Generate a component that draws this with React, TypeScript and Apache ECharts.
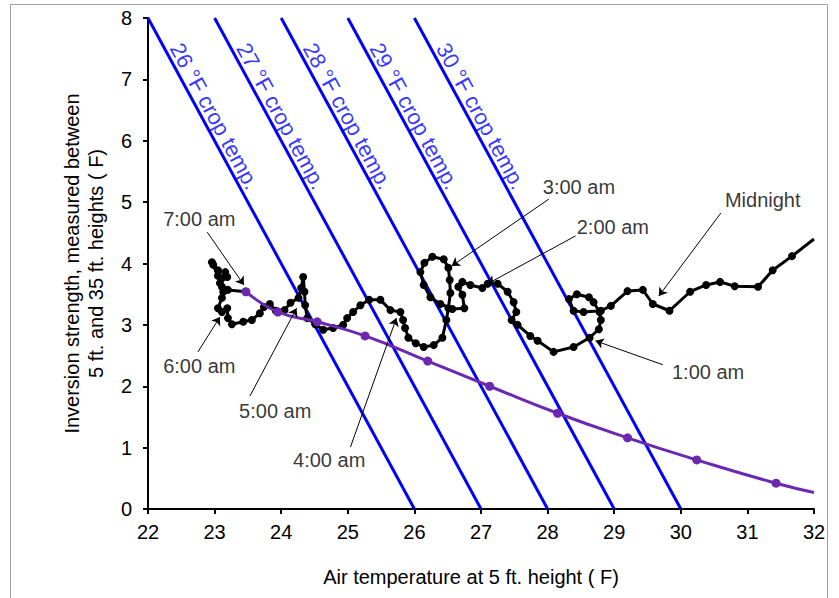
import React, { useEffect, useRef } from "react";
import * as echarts from "echarts";

// Crop temperature reference lines (°F): each runs from (topX, 8) down to (crop temp, 0)
const cropTemps = [26, 27, 28, 29, 30];
const cropLineTopX = [22, 23, 24, 25, 26];

// Inversion path (air temp at 5 ft, inversion strength), in recorded order
const inversionPath: [number, number][] = [
  [32.0, 4.4], [31.67, 4.12], [31.38, 3.89], [31.16, 3.62], [30.81, 3.63], [30.59, 3.7],
  [30.38, 3.65], [30.14, 3.54], [29.83, 3.23], [29.58, 3.34], [29.43, 3.57], [29.2, 3.55],
  [28.95, 3.31], [28.8, 3.23], [28.54, 3.21], [28.39, 3.23], [28.32, 3.42], [28.44, 3.5],
  [28.62, 3.45], [28.69, 3.37], [28.78, 3.21], [28.8, 3.08], [28.77, 2.93], [28.63, 2.79],
  [28.39, 2.64], [28.09, 2.56], [27.85, 2.74], [27.74, 2.82], [27.55, 3.0], [27.46, 3.08],
  [27.53, 3.21], [27.49, 3.37], [27.4, 3.54], [27.25, 3.67], [27.1, 3.67], [27.02, 3.6],
  [26.84, 3.65], [26.72, 3.7], [26.66, 3.62], [26.72, 3.49], [26.75, 3.27], [26.57, 3.26],
  [26.39, 3.34], [26.24, 3.45], [26.14, 3.65], [26.09, 3.86], [26.15, 4.01], [26.27, 4.11],
  [26.44, 4.07], [26.51, 3.93], [26.53, 3.73], [26.54, 3.52], [26.51, 3.27], [26.48, 3.08],
  [26.42, 2.79], [26.29, 2.67], [26.14, 2.64], [26.02, 2.7], [25.91, 2.79], [25.86, 2.95],
  [25.83, 3.08], [25.79, 3.21], [25.64, 3.24], [25.49, 3.41], [25.32, 3.41], [25.19, 3.32],
  [25.08, 3.21], [24.99, 3.11], [24.93, 3.0], [24.78, 2.95], [24.63, 2.92], [24.51, 3.01],
  [24.39, 3.11], [24.36, 3.32], [24.35, 3.54], [24.33, 3.78], [24.3, 3.6], [24.26, 3.44],
  [24.14, 3.36], [24.05, 3.24], [23.92, 3.23], [23.83, 3.34], [23.74, 3.29], [23.68, 3.19],
  [23.56, 3.08], [23.43, 3.05], [23.26, 3.01], [23.2, 3.11], [23.19, 3.27], [23.11, 3.21],
  [23.05, 3.27], [23.11, 3.44], [23.13, 3.54], [23.08, 3.68], [23.11, 3.76], [23.19, 3.78],
  [23.16, 3.86], [23.05, 3.89], [22.98, 3.98], [22.96, 4.02], [23.05, 3.8], [23.11, 3.62],
  [23.2, 3.57], [23.47, 3.54],
];

// Purple curve
const curveX = [23.47, 23.95, 24.54, 25.26, 26.2, 27.13, 28.15, 29.2, 30.24, 31.43, 32.0];
const curveY = [3.54, 3.21, 3.05, 2.82, 2.41, 2.0, 1.56, 1.16, 0.8, 0.42, 0.27];

// Time annotations
const timeLabels = ["Midnight", "1:00 am", "2:00 am", "3:00 am", "4:00 am", "5:00 am", "6:00 am", "7:00 am"];
const timeLabelAt: [number, number][] = [
  [31.23, 5.03], [30.41, 2.23], [28.98, 4.59], [28.47, 5.25],
  [24.72, 0.8], [23.91, 1.6], [22.77, 2.33], [22.77, 4.72],
];
const arrowFrom: [number, number][] = [
  [30.6, 4.82], [29.73, 2.35], [28.42, 4.45], [28.02, 5.05],
  [25.04, 1.01], [23.53, 1.84], [22.75, 2.56], [22.89, 4.51],
];
const arrowTo: [number, number][] = [
  [29.67, 3.47], [28.72, 2.74], [27.1, 3.67], [26.56, 3.96],
  [25.73, 3.11], [24.23, 3.27], [23.08, 3.13], [23.44, 3.65],
];

const cropLabelY = 6.4;
const cropLabelShift = 0.2;

export default function App() {
  const ref = useRef<HTMLDivElement>(null);
  useEffect(() => {
    if (!ref.current) return;
    const chart = echarts.init(ref.current, null, { renderer: "svg" });
    const font = "'Liberation Sans', Arial, sans-serif";
    const series: any[] = [];
    cropTemps.forEach((t, i) => {
      series.push({
        type: "line",
        name: `${t} °F crop temp.`,
        data: [
          [cropLineTopX[i], 8],
          [t, 0],
        ],
        symbol: "none",
        lineStyle: { color: "#0000ff", width: 3 },
        silent: true,
        z: 2,
      });
    });
    series.push({
      type: "scatter",
      name: "crop labels",
      data: cropTemps.map((t, i) => ({
        name: `${t} °F crop temp.`,
        value: [cropLineTopX[i] + (8 - cropLabelY) / 2 + cropLabelShift, cropLabelY],
      })),
      symbolSize: 1,
      itemStyle: { color: "rgba(0,0,0,0)" },
      label: {
        show: true,
        position: "inside",
        formatter: "{b}",
        rotate: -61.5,
        color: "#0000ff",
        fontSize: 22,
        fontFamily: font,
      },
      silent: true,
      z: 2,
    });
    series.push({
      type: "line",
      name: "Inversion",
      data: inversionPath.map((p, i) => (i === 0 ? { value: p, symbol: "none" } : p)),
      symbol: "circle",
      symbolSize: 8,
      showAllSymbol: true,
      lineStyle: { color: "#000", width: 3 },
      itemStyle: { color: "#000" },
      silent: true,
      z: 3,
    });
    series.push({
      type: "line",
      name: "Curve",
      data: curveX.map((x, i) =>
        i === curveX.length - 1 ? { value: [x, curveY[i]], symbol: "none" } : [x, curveY[i]]
      ),
      symbol: "circle",
      symbolSize: 9,
      smooth: true,
      showAllSymbol: true,
      lineStyle: { color: "#6c28b0", width: 3 },
      itemStyle: { color: "#6c28b0" },
      silent: true,
      z: 4,
    });
    series.push({
      type: "scatter",
      name: "times",
      data: timeLabels.map((n, i) => ({ name: n, value: timeLabelAt[i] })),
      symbolSize: 1,
      itemStyle: { color: "rgba(0,0,0,0)" },
      label: {
        show: true,
        position: "inside",
        formatter: "{b}",
        color: "#000",
        fontSize: 20,
        fontFamily: font,
      },
      markLine: {
        silent: true,
        symbol: ["none", "arrow"],
        symbolSize: 8,
        label: { show: false },
        lineStyle: { color: "#000", width: 1, type: "solid" },
        data: arrowFrom.map((f, i) => [{ coord: f }, { coord: arrowTo[i] }]),
      },
      silent: true,
      z: 5,
    });

    chart.setOption({
      animation: false,
      backgroundColor: "#fff",
      textStyle: { fontFamily: font },
      grid: { left: 148, right: 25, top: 18, bottom: 89, containLabel: false },
      graphic: [
        {
          type: "rect",
          shape: { x: 10.5, y: 4.5, width: 817, height: 600 },
          style: { fill: "none", stroke: "#a0a0a0", lineWidth: 1 },
          silent: true,
        },
      ],
      xAxis: {
        type: "value",
        min: 22,
        max: 32,
        interval: 1,
        axisLine: { onZero: false, lineStyle: { color: "#000", width: 2 } },
        axisTick: { show: true, length: 5, lineStyle: { color: "#000", width: 2 } },
        axisLabel: { color: "#000", fontSize: 20, margin: 13, fontFamily: font },
        splitLine: { show: false },
        name: "Air temperature at 5 ft. height ( F)",
        nameLocation: "middle",
        nameGap: 58,
        nameTextStyle: { fontSize: 20, color: "#000", fontFamily: font, padding: [0, 20, 0, 0] },
      },
      yAxis: {
        type: "value",
        min: 0,
        max: 8,
        interval: 1,
        axisLine: { onZero: false, lineStyle: { color: "#000", width: 2 } },
        axisTick: { show: true, length: 5, lineStyle: { color: "#000", width: 2 } },
        axisLabel: { color: "#000", fontSize: 20, margin: 16, fontFamily: font },
        splitLine: { show: false },
        name: "Inversion strength, measured between\n5 ft. and 35 ft. heights ( F)",
        nameLocation: "middle",
        nameGap: 40,
        nameRotate: 90,
        nameTextStyle: { fontSize: 20, color: "#000", fontFamily: font, lineHeight: 24 },
      },
      series,
    });
    return () => chart.dispose();
  }, []);
  return (
    <div
      ref={ref}
      style={{ position: "fixed", left: 0, top: 0, width: 839, height: 598, background: "#fff" }}
    />
  );
}
